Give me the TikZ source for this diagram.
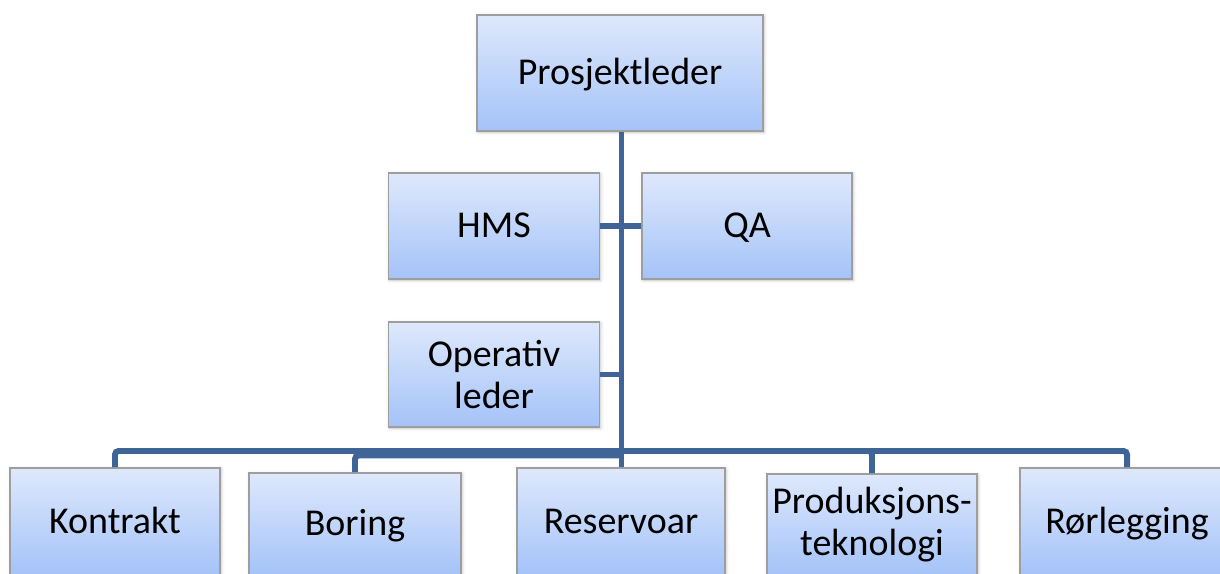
\documentclass[tikz,border=0pt]{standalone}
\usepackage{fontspec}
\setmainfont{Carlito}
\usepackage{tikz}
\usetikzlibrary{positioning}
\usetikzlibrary{calc}
\usetikzlibrary{shadows.blur}
\definecolor{boxtop}{RGB}{222,232,252}
\definecolor{boxbottom}{RGB}{164,195,248}
\definecolor{link}{RGB}{63,101,152}
\begin{document}
\begin{tikzpicture}
  [
    x=0.02cm,
    y=-0.02cm,
    box/.style={
      shade,
      top color=boxtop,
      bottom color=boxbottom,
      draw=black!38,
      line width=0.9pt,
      blur shadow={shadow xshift=0.6pt,shadow yshift=-0.6pt,shadow blur steps=3,shadow opacity=25},
      inner sep=1pt,
      align=center,
      font=\fontsize{21.6}{23.5}\selectfont
    },
    oneline/.style={
      text height=13.6pt,
      text depth=0pt
    },
    unit/.style={
      box,
      minimum width=4.2cm,
      minimum height=2.14cm
    },
    link/.style={
      draw=link,
      line width=3.4pt,
      rounded corners=2pt
    }
  ]
  \useasboundingbox (0,0) rectangle (1220,574);
  % top
  \node [box,oneline,minimum width=5.72cm,minimum height=2.32cm] (chief) at (620,73) {Prosjektleder};
  % staff
  \node [unit,oneline,minimum width=4.22cm,minimum height=2.12cm] (hms) at (494,226) {HMS};
  \node [unit,oneline,minimum height=2.12cm] (qa) at (747,226) {QA};
  \node [unit,minimum width=4.22cm,minimum height=2.1cm] (op) at (494,374.5) {Operativ\\leder};
  % units
  \node [unit,oneline] (kontrakt) at (115,521.5) {Kontrakt};
  \node [unit,oneline,minimum width=4.24cm,minimum height=2.04cm] (boring) at (355,524) {Boring};
  \node [unit,oneline,minimum width=4.16cm] (reservoar) at (621,521.5) {Reservoar};
  \node [unit,minimum height=2.02cm] (prod) at (872,524.5) {Produksjons-\\teknologi};
  \node [unit,oneline,minimum width=4.28cm] (ror) at (1127,521.5) {Rørlegging};
  % connectors
  \coordinate (bus) at (621.5,451);
  \coordinate (busb) at (621.5,455.5);
  \draw [link] (bus) -| (kontrakt.north);
  \draw [link] (bus) -| (prod.north);
  \draw [link] (bus) -| (ror.north);
  \draw [link] (busb) -| (boring.north);
  \draw [link] (hms.east) -- (qa.west);
  \draw [link] (op.east) -- (op.east -| bus);
  \draw [link] (chief.south -| bus) -- (reservoar.north -| bus);
\end{tikzpicture}
\end{document}
